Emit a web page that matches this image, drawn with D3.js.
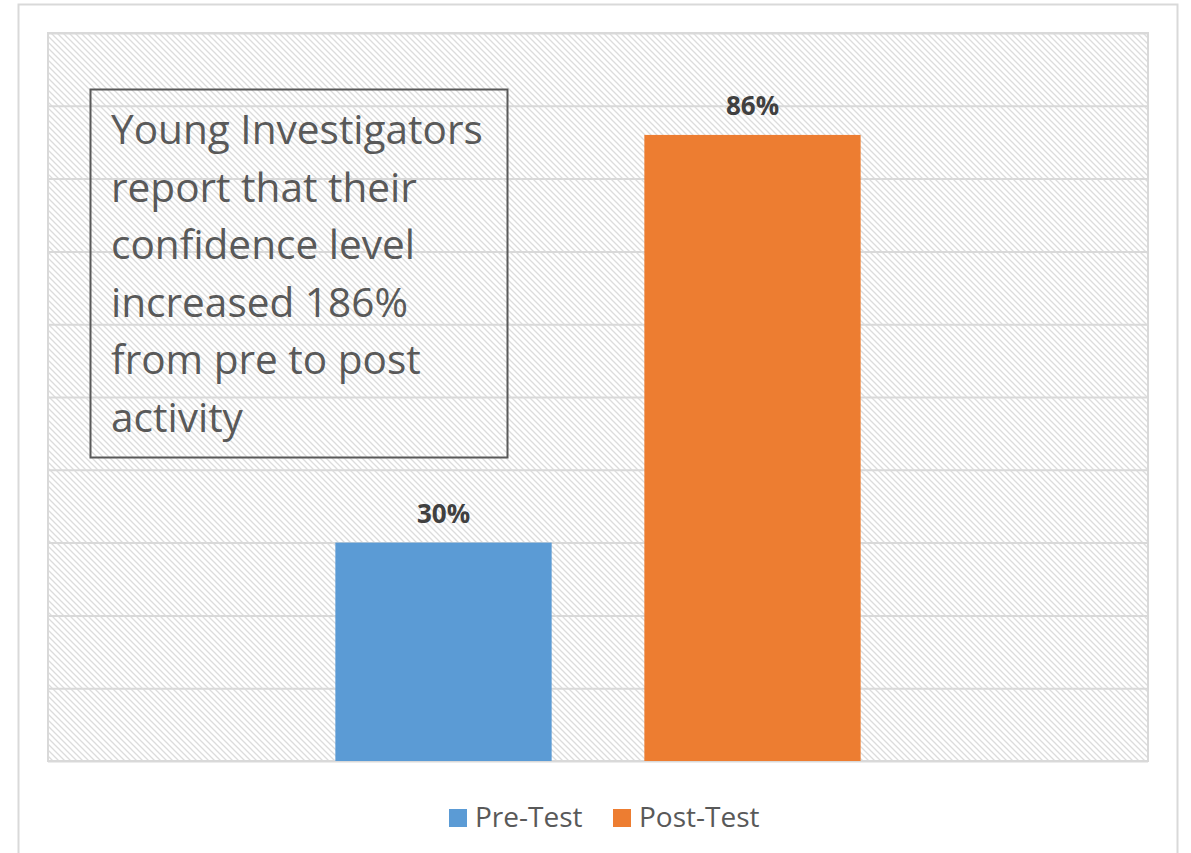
<!DOCTYPE html>
<html>
<head>
<meta charset="utf-8">
<script src="https://cdn.jsdelivr.net/npm/d3@7"></script>
<style>
  html, body { margin: 0; padding: 0; background: #fff; }
  svg { display: block; }
</style>
</head>
<body>
<svg id="chart" width="1191" height="853"></svg>
<script>
const series = ["Pre-Test", "Post-Test"];
const values = [30, 86];
const colors = ["#5b9bd5", "#ed7d31"];
const yTicks = [0, 10, 20, 30, 40, 50, 60, 70, 80, 90, 100];
const noteLines = ["Young Investigators", "report that their", "confidence level", "increased 186%", "from pre to post", "activity"];

const svg = d3.select("#chart");
const W = 1191, H = 853;
const plot = { left: 48, right: 1148, top: 33, bottom: 761 };

// hatch pattern
const defs = svg.append("defs");
const pat = defs.append("pattern")
  .attr("id", "hatch").attr("patternUnits", "userSpaceOnUse")
  .attr("width", 6).attr("height", 6);
pat.append("rect").attr("width", 6).attr("height", 6).attr("fill", "#ffffff");
pat.append("path").attr("d", "M-1,-1 L7,7 M-1,5 L1,7 M5,-1 L7,1")
  .attr("stroke", "#dcdcdc").attr("stroke-width", 1.3);

// outer chart border
svg.append("rect").attr("x", 18.5).attr("y", 4.5).attr("width", 1159).attr("height", H + 20)
  .attr("fill", "#fff").attr("stroke", "#d9d9d9").attr("stroke-width", 2);

const y = d3.scaleLinear().domain([0, 100]).range([plot.bottom, plot.top]);
const x = d3.scaleBand().domain(series).range([plot.left, plot.right])
  .paddingInner(0.3).paddingOuter(0.93);

// plot area
svg.append("rect").attr("x", plot.left).attr("y", plot.top)
  .attr("width", plot.right - plot.left).attr("height", plot.bottom - plot.top)
  .attr("fill", "url(#hatch)").attr("stroke", "#d9d9d9").attr("stroke-width", 2);

// gridlines via axis
const grid = svg.append("g").attr("transform", `translate(${plot.left},0)`)
  .call(d3.axisLeft(y).tickValues(yTicks).tickSize(-(plot.right - plot.left)).tickFormat(""));
grid.select(".domain").remove();
grid.selectAll(".tick line").attr("stroke", "#d9d9d9").attr("stroke-width", 2);

// bars
svg.append("g").selectAll("rect").data(series).join("rect")
  .attr("x", d => x(d)).attr("width", x.bandwidth())
  .attr("y", (d, i) => y(values[i]))
  .attr("height", (d, i) => y(0) - y(values[i]))
  .attr("fill", (d, i) => colors[i]);

// data labels
svg.append("g").selectAll("text").data(series).join("text")
  .attr("x", d => x(d) + x.bandwidth() / 2)
  .attr("y", (d, i) => y(values[i]) - 20)
  .attr("text-anchor", "middle")
  .attr("font-family", "'Open Sans', sans-serif")
  .attr("font-weight", "bold").attr("font-size", 26)
  .attr("fill", "#404040")
  .text((d, i) => values[i] + "%");

// annotation box
svg.append("rect").attr("x", 90.5).attr("y", 89.5).attr("width", 417).attr("height", 368)
  .attr("fill", "none").attr("stroke", "#595959").attr("stroke-width", 2);

const note = svg.append("g");
const noteText = note.selectAll("text").data(noteLines).join("text")
  .attr("x", 111)
  .attr("y", (d, i) => 144 + i * 57.5)
  .attr("font-family", "'Open Sans', sans-serif")
  .attr("font-size", 40)
  .attr("fill", "#595959")
  .text(d => d);
// fit first line width to reference (~372px)
const w0 = noteText.nodes()[0].getComputedTextLength();
const fs = 40 * 372 / w0;
noteText.attr("font-size", fs);

// legend
const legendItems = [
  { name: series[0], color: colors[0], sx: 449, tx: 475 },
  { name: series[1], color: colors[1], sx: 613, tx: 639 }
];
const lg = svg.append("g");
lg.selectAll("rect").data(legendItems).join("rect")
  .attr("x", d => d.sx).attr("y", 809).attr("width", 18).attr("height", 18)
  .attr("fill", d => d.color);
lg.selectAll("text").data(legendItems).join("text")
  .attr("x", d => d.tx).attr("y", 827)
  .attr("font-family", "'Open Sans', sans-serif")
  .attr("font-size", 28).attr("fill", "#595959")
  .text(d => d.name);
</script>
</body>
</html>
